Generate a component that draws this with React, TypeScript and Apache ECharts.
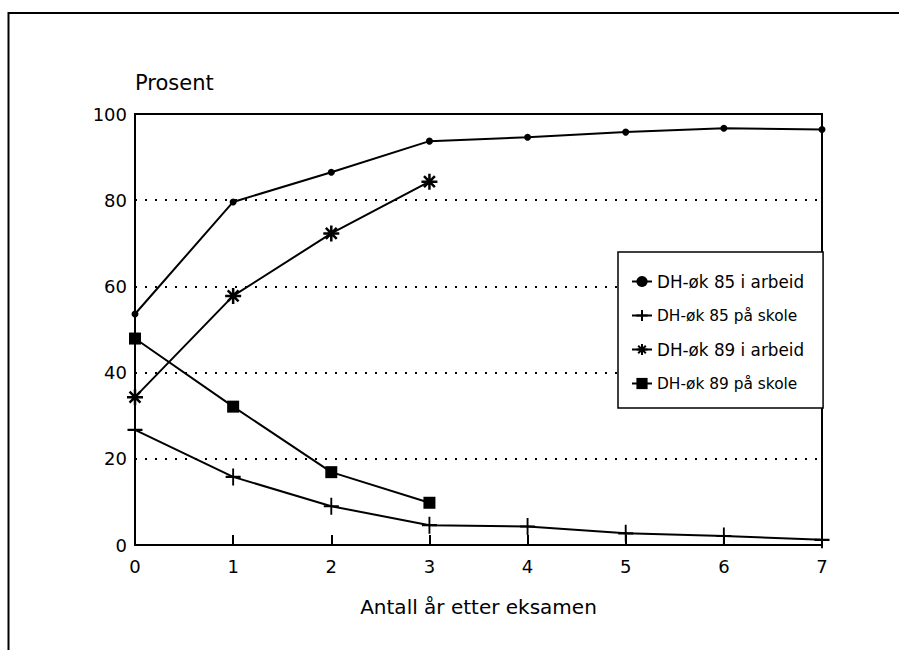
import React, { useEffect, useRef } from "react";
import * as echarts from "echarts";

const years = [0, 1, 2, 3, 4, 5, 6, 7];
const seriesNames = [
  "DH-øk 85 i arbeid",
  "DH-øk 85 på skole",
  "DH-øk 89 i arbeid",
  "DH-øk 89 på skole",
];
const dh85Arbeid = [53.6, 79.6, 86.5, 93.7, 94.6, 95.8, 96.7, 96.4];
const dh85Skole = [26.7, 15.8, 9.0, 4.6, 4.3, 2.7, 2.1, 1.2];
const dh89Arbeid = [34.3, 57.8, 72.3, 84.3];
const dh89Skole = [47.9, 32.1, 16.9, 9.8];
const yTicks = [0, 20, 40, 60, 80, 100];

const FONT = "DejaVu Sans";
const PLUS = "path://M5,0 L5,10 M0,5 L10,5";
const STAR = "path://M5,0 L5,10 M0,5 L10,5 M1.6,1.6 L8.4,8.4 M8.4,1.6 L1.6,8.4";

function pairs(vals: number[]) {
  return vals.map((v, i) => [years[i], v]);
}

export default function App() {
  const ref = useRef<HTMLDivElement>(null);
  useEffect(() => {
    if (!ref.current) return;
    const chart = echarts.init(ref.current, null, { renderer: "svg" });
    const lineStyle = { color: "#000", width: 2 };
    chart.setOption({
      animation: false,
      backgroundColor: "#fff",
      graphic: [
        {
          type: "rect",
          shape: { x: 8.5, y: 13, width: 1000, height: 1000 },
          style: { fill: "none", stroke: "#000", lineWidth: 2 },
          silent: true,
        },
      ],
      grid: {
        left: 135,
        right: 77,
        top: 114,
        bottom: 105,
        show: true,
        borderColor: "#000",
        borderWidth: 2,
        backgroundColor: "transparent",
      },
      legend: {
        orient: "vertical",
        left: 618,
        top: 252,
        padding: [21, 19, 17, 13],
        itemWidth: 20,
        itemHeight: 14,
        itemGap: 18,
        backgroundColor: "#fff",
        borderColor: "#000",
        borderWidth: 1.5,
        formatter: (name: string) =>
          name.indexOf("skole") >= 0 ? `{s|${name}}` : `{a|${name}}`,
        textStyle: {
          fontFamily: FONT,
          fontSize: 16,
          color: "#000",
          rich: {
            a: { fontFamily: FONT, fontSize: 16.8, color: "#000" },
            s: { fontFamily: FONT, fontSize: 15.4, color: "#000" },
          },
        },
        data: seriesNames,
      },
      xAxis: {
        type: "value",
        min: 0,
        max: 7,
        interval: 1,
        name: "Antall år etter eksamen",
        nameLocation: "middle",
        nameGap: 62,
        nameTextStyle: {
          fontFamily: FONT,
          fontSize: 20,
          color: "#000",
          verticalAlign: "middle",
        },
        axisLine: { show: true, lineStyle: { color: "#000", width: 2 } },
        axisTick: { show: true, inside: true, length: 10, lineStyle: { color: "#000", width: 2 } },
        axisLabel: { fontFamily: FONT, fontSize: 18, color: "#000", margin: 12 },
        splitLine: { show: false },
      },
      yAxis: {
        type: "value",
        min: 0,
        max: 100,
        interval: 20,
        name: "Prosent",
        nameLocation: "end",
        nameGap: 31,
        nameTextStyle: {
          fontFamily: FONT,
          fontSize: 21,
          color: "#000",
          align: "left",
          verticalAlign: "middle",
        },
        axisLine: { show: true, lineStyle: { color: "#000", width: 2 } },
        axisTick: { show: false },
        axisLabel: {
          fontFamily: FONT,
          fontSize: 18,
          color: "#000",
          margin: 8,
          formatter: (v: number) => (yTicks.includes(v) ? String(v) : ""),
        },
        splitLine: { show: true, lineStyle: { color: "#000", width: 2, type: [2, 8] } },
      },
      series: [
        {
          name: seriesNames[0],
          type: "line",
          data: pairs(dh85Arbeid),
          symbol: "circle",
          symbolSize: 7,
          lineStyle,
          itemStyle: { color: "#000" },
        },
        {
          name: seriesNames[1],
          type: "line",
          data: pairs(dh85Skole),
          symbol: PLUS,
          symbolSize: [15, 17],
          lineStyle,
          itemStyle: { color: "#000", borderColor: "#000", borderWidth: 2 },
        },
        {
          name: seriesNames[2],
          type: "line",
          data: pairs(dh89Arbeid),
          symbol: STAR,
          symbolSize: 16,
          lineStyle,
          itemStyle: { color: "#000", borderColor: "#000", borderWidth: 2.5 },
        },
        {
          name: seriesNames[3],
          type: "line",
          data: pairs(dh89Skole),
          symbol: "rect",
          symbolSize: 12,
          lineStyle,
          itemStyle: { color: "#000" },
        },
      ],
    });
    return () => chart.dispose();
  }, []);
  return (
    <div
      ref={ref}
      style={{ position: "absolute", left: 0, top: 0, width: 899, height: 650 }}
    />
  );
}
